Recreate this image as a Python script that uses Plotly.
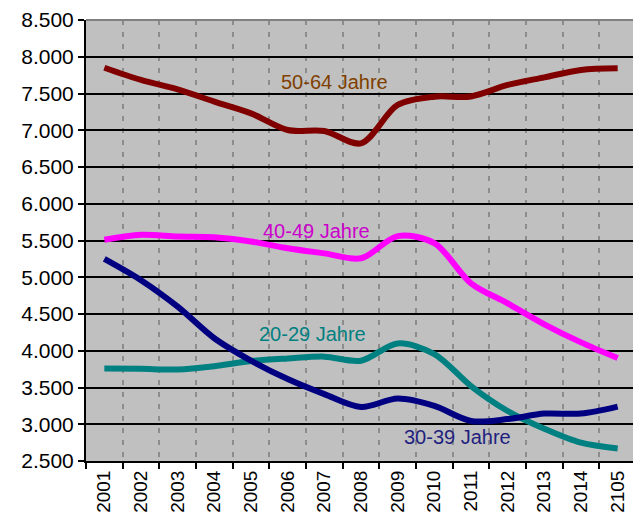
import plotly.graph_objects as go

# Jahre (letzte Kategorie so wie im Original beschriftet)
jahre = ["2001", "2002", "2003", "2004", "2005", "2006", "2007", "2008",
         "2009", "2010", "2011", "2012", "2013", "2014", "2105"]

# Altersgruppen
a20_29 = [3760, 3755, 3745, 3790, 3860, 3895, 3920, 3865, 4100, 3955, 3520, 3180, 2940, 2750, 2670]
a30_39 = [5250, 4960, 4600, 4170, 3865, 3615, 3410, 3235, 3350, 3250, 3045, 3070, 3145, 3145, 3240]
a40_49 = [5510, 5578, 5555, 5545, 5486, 5395, 5325, 5258, 5560, 5464, 4918, 4645, 4360, 4114, 3900]
a50_64 = [7850, 7684, 7557, 7390, 7230, 7003, 6990, 6822, 7344, 7457, 7460, 7616, 7720, 7820, 7843]

namen = ["20-29 Jahre", "30-39 Jahre", "40-49 Jahre", "50-64 Jahre"]
farben = ["#008080", "#000080", "#FF00FF", "#800000"]
textfarben = ["#008080", "#1F1F7F", "#CC00CC", "#7F3F00"]

fig = go.Figure()
for name, werte, farbe in zip(namen, [a20_29, a30_39, a40_49, a50_64], farben):
    fig.add_trace(go.Scatter(x=jahre, y=werte, name=name, mode="lines",
                             line=dict(color=farbe, width=6, shape="spline", smoothing=0.9)))

# Beschriftungen direkt im Diagramm
pos = [(0.411, 0.287), (0.675, 0.055), (0.419, 0.522), (0.451, 0.859)]
for name, (px, py), tf in zip(namen, pos, textfarben):
    fig.add_annotation(x=px, y=py, xref="paper", yref="paper", text=name,
                       xanchor="center", yanchor="middle",
                       showarrow=False, font=dict(color=tf, size=20))

# grauer Rahmen oben und rechts
fig.add_shape(type="line", xref="paper", yref="paper", x0=0, x1=1, y0=1, y1=1,
              line=dict(color="#808080", width=2))
fig.add_shape(type="line", xref="paper", yref="paper", x0=1, x1=1, y0=0, y1=1,
              line=dict(color="#808080", width=2))

# die Seite hat 8px Rand, deshalb etwas kleiner und verschoben
fig.update_layout(
    width=633, height=516,
    margin=dict(l=78, r=5, t=12, b=63, autoexpand=False),
    plot_bgcolor="#C0C0C0", paper_bgcolor="white",
    showlegend=False,
    separators=",.",
    font=dict(family="Liberation Sans, Arial, sans-serif", size=19, color="black"),
)
fig.update_xaxes(type="category", range=[-0.5, 14.5], tickangle=-90, automargin=False,
                 tickson="boundaries", ticks="outside", ticklen=6, tickwidth=2, tickcolor="black",
                 showgrid=True, gridcolor="#8C8C8C", gridwidth=2, griddash="5px,7px",
                 showline=True, linecolor="black", linewidth=2, zeroline=False)
fig.update_yaxes(range=[2500, 8500], dtick=500, tickformat=",d", automargin=False,
                 tickfont=dict(size=21),
                 ticks="outside", ticklen=6, tickwidth=2, tickcolor="black",
                 showgrid=True, gridcolor="black", gridwidth=2,
                 showline=True, linecolor="black", linewidth=2, zeroline=False)

fig.write_html("out.html")
